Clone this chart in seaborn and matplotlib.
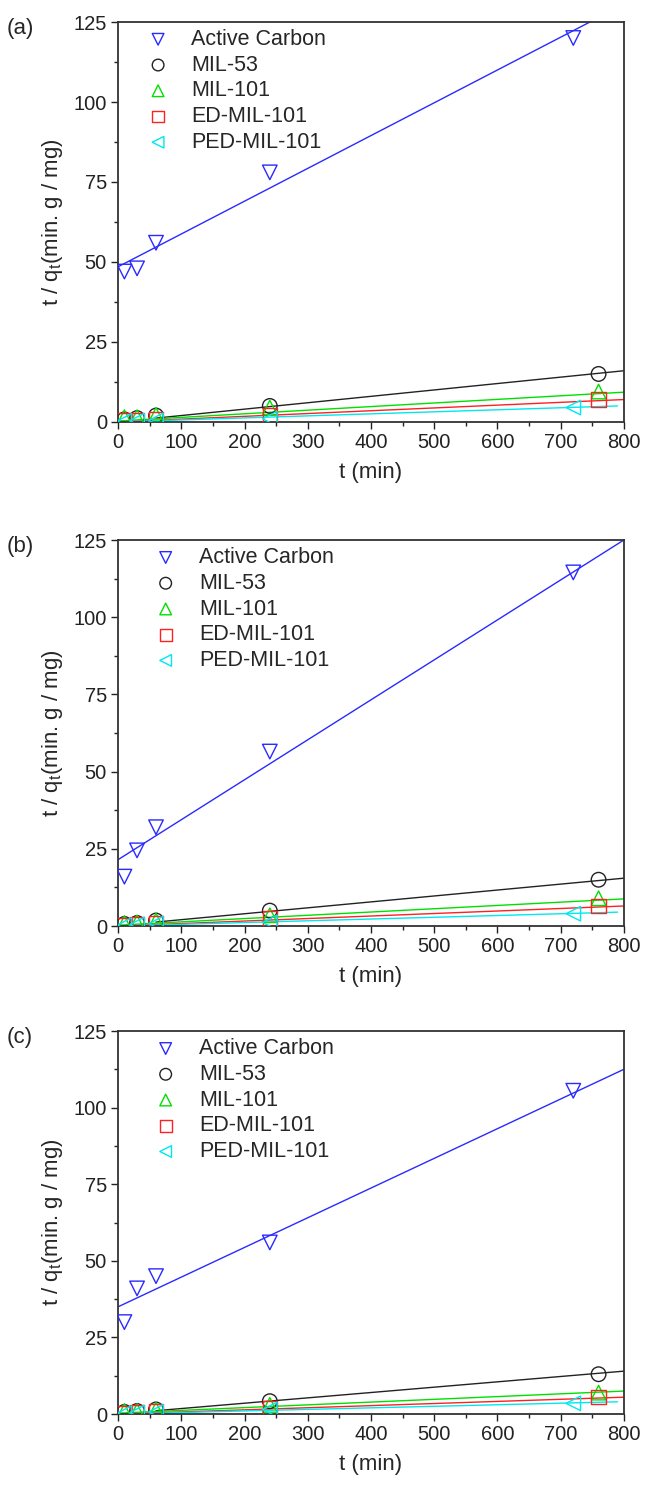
"""Pseudo-second-order kinetics: t/qt vs t for three panels."""

import matplotlib

matplotlib.use("Agg")

import matplotlib.pyplot as plt
import pandas as pd
import seaborn as sns
from matplotlib.ticker import MultipleLocator

# sample names, markers and colours
series = ["Active Carbon", "MIL-53", "MIL-101", "ED-MIL-101", "PED-MIL-101"]
markers = ["v", "o", "^", "s", "<"]
colors = ["#2a2aff", "#222222", "#00e000", "#ff2020", "#00e8f0"]

# sampling times (min) of each series
times = {
    "Active Carbon": [10, 30, 60, 240, 720],
    "MIL-53": [10, 30, 60, 240, 760],
    "MIL-101": [10, 30, 60, 240, 760],
    "ED-MIL-101": [10, 30, 60, 240, 760],
    "PED-MIL-101": [10, 30, 60, 240, 720],
}

# measured t/qt values per panel
panel_a = {
    "Active Carbon": [47.0, 48.0, 56.0, 78.0, 120.0],
    "MIL-53": [0.8, 1.2, 2.0, 5.0, 15.0],
    "MIL-101": [1.5, 1.5, 2.2, 4.5, 9.5],
    "ED-MIL-101": [0.5, 0.6, 0.7, 2.0, 7.0],
    "PED-MIL-101": [0.3, 0.4, 0.5, 1.0, 4.5],
}
panel_b = {
    "Active Carbon": [16.0, 24.5, 32.0, 56.5, 114.5],
    "MIL-53": [0.7, 1.0, 1.8, 5.0, 15.0],
    "MIL-101": [1.0, 1.2, 1.8, 3.5, 9.0],
    "ED-MIL-101": [0.4, 0.6, 0.9, 2.5, 6.5],
    "PED-MIL-101": [0.3, 0.5, 0.8, 1.2, 4.0],
}
panel_c = {
    "Active Carbon": [30.0, 41.0, 45.0, 56.0, 105.5],
    "MIL-53": [0.7, 1.0, 1.5, 4.2, 13.0],
    "MIL-101": [1.0, 1.0, 1.5, 3.0, 7.0],
    "ED-MIL-101": [0.4, 0.6, 0.9, 2.0, 5.5],
    "PED-MIL-101": [0.3, 0.5, 0.7, 1.5, 3.5],
}

# fitted straight lines: (t_start, t_end) and (y_start, y_end)
fit_t = {
    "Active Carbon": [0, 800],
    "MIL-53": [60, 800],
    "MIL-101": [0, 800],
    "ED-MIL-101": [0, 800],
    "PED-MIL-101": [0, 790],
}
fit_a = {
    "Active Carbon": [48.5, 130.5],
    "MIL-53": [1.2, 16.0],
    "MIL-101": [0.3, 9.3],
    "ED-MIL-101": [0.0, 7.0],
    "PED-MIL-101": [0.0, 5.0],
}
fit_b = {
    "Active Carbon": [21.5, 125.0],
    "MIL-53": [1.3, 15.5],
    "MIL-101": [0.3, 8.8],
    "ED-MIL-101": [0.0, 6.5],
    "PED-MIL-101": [0.0, 4.5],
}
fit_c = {
    "Active Carbon": [35.0, 112.5],
    "MIL-53": [1.1, 14.0],
    "MIL-101": [0.3, 7.5],
    "ED-MIL-101": [0.0, 5.5],
    "PED-MIL-101": [0.0, 4.0],
}

panels = [
    ("(a)", panel_a, fit_a, [0.180, 0.7202, 0.771, 0.2652], (0.011, 1.015)),
    ("(b)", panel_b, fit_b, [0.180, 0.3859, 0.771, 0.2560], (0.026, 1.015)),
    ("(c)", panel_c, fit_c, [0.180, 0.0623, 0.771, 0.2540], (0.026, 1.015)),
]

sns.set_theme(style="ticks")
plt.rcParams["font.family"] = ["Liberation Sans", "DejaVu Sans"]
plt.rcParams["mathtext.fontset"] = "custom"
plt.rcParams["mathtext.rm"] = "Liberation Sans"
plt.rcParams["mathtext.it"] = "Liberation Sans"

fig = plt.figure(figsize=(6.56, 15.08), dpi=100)

for tag, values, fits, rect, legend_anchor in panels:
    ax = fig.add_axes(rect)
    for name, marker, color in zip(series, markers, colors):
        pts = pd.DataFrame({"t": times[name], "y": values[name]})
        line = pd.DataFrame({"t": fit_t[name], "y": fits[name]})
        sns.lineplot(data=line, x="t", y="y", color=color, linewidth=1.0, ax=ax)
        sns.scatterplot(
            data=pts, x="t", y="y", marker=marker, s=110,
            facecolor="none", edgecolor=color, linewidth=1.0,
            ax=ax, label=name, zorder=3,
        )
    ax.set_xlim(0, 800)
    ax.set_ylim(0, 125)
    ax.xaxis.set_major_locator(MultipleLocator(100))
    ax.xaxis.set_minor_locator(MultipleLocator(50))
    ax.yaxis.set_major_locator(MultipleLocator(25))
    ax.yaxis.set_minor_locator(MultipleLocator(12.5))
    ax.tick_params(which="both", direction="out", top=False, right=False,
                   labelsize=14.5, width=1.0, colors="#222222")
    ax.tick_params(which="major", length=5, pad=3)
    ax.tick_params(which="minor", length=3)
    for sp in ax.spines.values():
        sp.set_linewidth(1.3)
        sp.set_color("#333333")
    ax.set_xlabel("t (min)", fontsize=16, labelpad=7)
    ax.set_ylabel("t / q$_t$(min. g / mg)", fontsize=16, labelpad=6)
    ax.legend(loc="upper left", bbox_to_anchor=legend_anchor, frameon=False,
              fontsize=15.5, handletextpad=0.55, labelspacing=0.22,
              borderaxespad=0.2, markerscale=0.8)
    ax.text(-0.22, 1.01, tag, transform=ax.transAxes, fontsize=16,
            ha="left", va="top")

fig.savefig("out.png", dpi=100)
